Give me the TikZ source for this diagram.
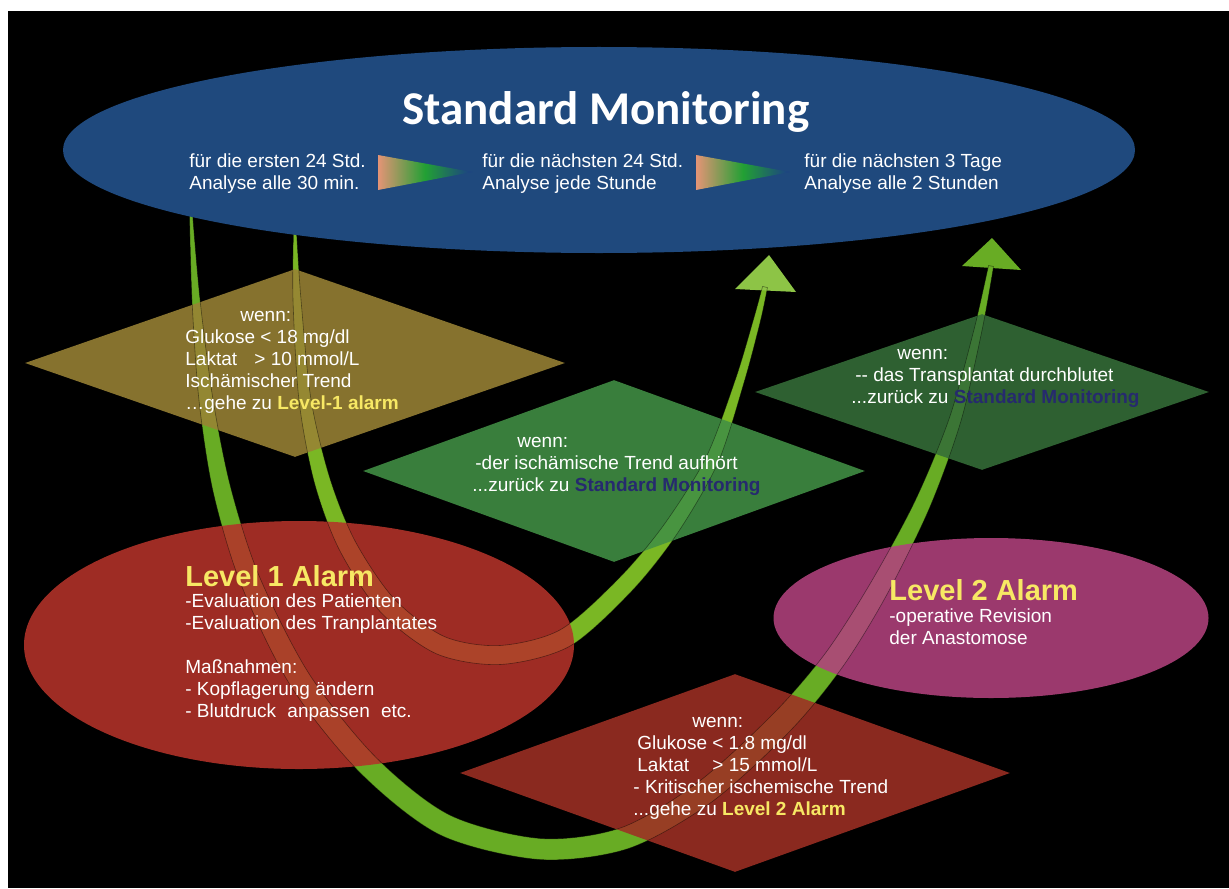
\documentclass[tikz,border=0pt]{standalone}
\usepackage{fontspec}
\setmainfont{Liberation Sans}
\newfontfamily\titlefont{Carlito}
\usetikzlibrary{calc,shapes.geometric}
\definecolor{smblue}{RGB}{31,73,125}
\definecolor{olivec}{RGB}{153,130,53}
\definecolor{greenA}{RGB}{66,144,69}
\definecolor{greenB}{RGB}{53,110,56}
\definecolor{redell}{RGB}{180,51,42}
\definecolor{magell}{RGB}{177,66,125}
\definecolor{reddia}{RGB}{158,47,36}
\definecolor{armA}{RGB}{104,172,36}
\definecolor{armB}{RGB}{122,183,36}
\definecolor{headB}{RGB}{141,196,70}
\definecolor{yel}{RGB}{247,232,100}
\definecolor{navy}{RGB}{38,42,110}
\definecolor{salm}{RGB}{228,148,118}
\definecolor{grn}{RGB}{34,160,52}
\definecolor{tipb}{RGB}{28,62,135}
\begin{document}
\begin{tikzpicture}[x=0.5pt,y=-0.5pt,
  txt/.style={text=white,font=\fontsize{9.5}{11}\selectfont,align=left,inner sep=0pt,anchor=base west},
  bigtitle/.style={text=yel,font=\bfseries\fontsize{14.5}{17}\selectfont,inner sep=0pt,anchor=base west},
  dia/.style={diamond,inner sep=0pt,fill opacity=0.88},
  ell/.style={ellipse,inner sep=0pt,fill opacity=0.88},
  bandline/.style={draw=black,draw opacity=0.45,line width=0.3pt},
  grad/.style={left color=salm,right color=tipb,middle color=grn}]
\useasboundingbox (0,0) rectangle (1229,888);
\fill[white] (0,0) rectangle (1229,888);
\fill[black] (8,11) rectangle (1229,888);

% ---- arrow A centre line
\foreach \n/\x/\y in {0/191/214,1/196/300,2/206/400,3/222/490,4/250/580,5/300/680,6/368/765,7/445/825,8/540/849,9/625/838,10/705/792,11/782/722,12/834/660,13/878/590,14/922/505,15/955/420,16/978/330,17/991/266}
  \coordinate (A\n) at (\x,\y);
\foreach \i/\p/\q/\h in {0/0/1/0.75pt,1/0/2/2pt,2/1/3/3.5pt,3/2/4/4.5pt,4/3/5/5pt,5/4/6/5.5pt,6/5/7/5.5pt,7/6/8/5.5pt,8/7/9/5.25pt,9/8/10/5.5pt,10/9/11/6pt,11/10/12/6pt,12/11/13/5.5pt,13/12/14/5pt,14/13/15/4pt,15/14/16/3pt,16/15/17/2pt,17/16/17/1.25pt}{
  \coordinate (AL\i) at ($(A\i)-(A\p)+(A\p)!\h!90:(A\q)$);
  \coordinate (AR\i) at ($(A\i)-(A\p)+(A\p)!\h!-90:(A\q)$);
}
% ---- arrow B centre line
\foreach \n/\x/\y in {0/295/232,1/297/300,2/305/400,3/322/480,4/347/545,5/387/605,6/440/645,7/500/655,8/565/638,9/625/585,10/670/530,11/712/460,12/740/380,13/757/320,14/765/287}
  \coordinate (B\n) at (\x,\y);
\foreach \i/\p/\q/\h in {0/0/1/0.75pt,1/0/2/2pt,2/1/3/3pt,3/2/4/4pt,4/3/5/4.5pt,5/4/6/4.75pt,6/5/7/4.75pt,7/6/8/4.75pt,8/7/9/4.75pt,9/8/10/4.5pt,10/9/11/4pt,11/10/12/3.25pt,12/11/13/2.25pt,13/12/14/1.75pt,14/13/14/1.25pt}{
  \coordinate (BL\i) at ($(B\i)-(B\p)+(B\p)!\h!90:(B\q)$);
  \coordinate (BR\i) at ($(B\i)-(B\p)+(B\p)!\h!-90:(B\q)$);
}
\def\pathA{plot[smooth] coordinates {(AL0) (AL1) (AL2) (AL3) (AL4) (AL5) (AL6) (AL7) (AL8) (AL9) (AL10) (AL11) (AL12) (AL13) (AL14) (AL15) (AL16) (AL17)} -- plot[smooth] coordinates {(AR17) (AR16) (AR15) (AR14) (AR13) (AR12) (AR11) (AR10) (AR9) (AR8) (AR7) (AR6) (AR5) (AR4) (AR3) (AR2) (AR1) (AR0)} -- cycle}
\def\pathB{plot[smooth] coordinates {(BL0) (BL1) (BL2) (BL3) (BL4) (BL5) (BL6) (BL7) (BL8) (BL9) (BL10) (BL11) (BL12) (BL13) (BL14)} -- plot[smooth] coordinates {(BR14) (BR13) (BR12) (BR11) (BR10) (BR9) (BR8) (BR7) (BR6) (BR5) (BR4) (BR3) (BR2) (BR1) (BR0)} -- cycle}

\fill[armA] \pathA;
\fill[armB] \pathB;
\coordinate (Ahl) at (962,266); \coordinate (Atip) at (992,238); \coordinate (Ahr) at (1021,270);
\coordinate (Bhl) at (735,289); \coordinate (Btip) at (769,255); \coordinate (Bhr) at (796,292);
\fill[armA] (Ahl) -- (Atip) -- (Ahr) -- cycle;
\fill[headB] (Bhl) -- (Btip) -- (Bhr) -- cycle;

% ---- shapes
\node[dia,fill=olivec,minimum width=270pt,minimum height=94pt] (d1) at (295,363) {};
\node[dia,fill=greenA,minimum width=251pt,minimum height=91pt] (d2) at (614,471) {};
\node[dia,fill=greenB,minimum width=227pt,minimum height=78pt] (d3) at (982,392) {};
\node[dia,fill=reddia,minimum width=275pt,minimum height=99pt] (d4) at (735,773) {};
\node[ell,fill=redell,minimum width=275pt,minimum height=124pt] (e1) at (299,645) {};
\node[ell,fill=magell,minimum width=217.5pt,minimum height=80pt] (e2) at (991,618) {};

\path[bandline] \pathA;
\path[bandline] \pathB;

\node[ellipse,fill=smblue,inner sep=0pt,minimum width=536pt,minimum height=103pt] (sm) at (599,150) {};

\shade[grad] (378,155) -- (472,172) -- (378,190) -- cycle;
\shade[grad] (696,155) -- (790,172) -- (696,190) -- cycle;

% ---- texts (base anchor = baseline of the last line)
\node[anchor=base west,inner sep=0pt,text=white,font=\titlefont\bfseries\fontsize{23.5}{28}\selectfont] (title) at (402,125) {Standard Monitoring};
\node[txt] (t1) at (189,189) {für die ersten 24 Std.\\Analyse alle 30 min.};
\node[txt] (t2) at (482,189) {für die nächsten 24 Std.\\Analyse jede Stunde};
\node[txt] (t3) at (804,189) {für die nächsten 3 Tage\\Analyse alle 2 Stunden};

\node[txt] (c1) at (185,409) {\hspace*{27.5pt}wenn:\\Glukose < 18 mg/dl\\Laktat\hspace{6pt} > 10 mmol/L\\Ischämischer Trend\\…gehe zu \textbf{\color{yel}Level-1 alarm}};
\node[txt] (c2) at (472,491) {\hspace*{22.5pt}wenn:\\\hspace*{1.5pt}-der ischämische Trend aufhört\\...zurück zu \textbf{\color{navy}Standard Monitoring}};
\node[txt] (c3) at (851,403) {\hspace*{23pt}wenn:\\\hspace*{2pt}-{}- das Transplantat durchblutet\\...zurück zu \textbf{\color{navy}Standard Monitoring}};
\node[txt] (c4) at (633,815) {\hspace*{29.5pt}wenn:\\\hspace*{2pt}Glukose < 1.8 mg/dl\\\hspace*{2pt}Laktat\hspace{9pt} > 15 mmol/L\\- Kritischer ischemische Trend\\...gehe zu \textbf{\color{yel}Level 2 Alarm}};

\node[bigtitle] (l1t) at (185,586) {Level 1 Alarm};
\node[txt] (l1) at (185,717) {-Evaluation des Patienten\\-Evaluation des Tranplantates\\[11pt]Maßnahmen:\\- Kopflagerung ändern\\- Blutdruck\hspace{3pt} anpassen\hspace{3pt} etc.};
\node[bigtitle] (l2t) at (889,600) {Level 2 Alarm};
\node[txt] (l2) at (889,644) {-operative Revision\\der Anastomose};
\end{tikzpicture}
\end{document}
